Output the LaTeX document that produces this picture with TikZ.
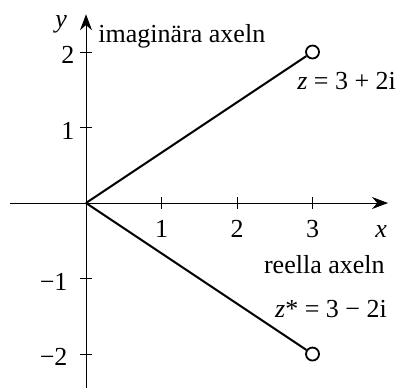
\documentclass[tikz,border=0pt]{standalone}
\usepackage{fontspec}
\setmainfont{Liberation Serif}
\usetikzlibrary{arrows.meta}

\begin{document}
\begin{tikzpicture}[x=37.75pt, y=37.75pt, >={Stealth[length=8pt,width=6pt]},
  font=\fontsize{13}{15}\selectfont,
  vec/.style={line width=1pt},
  lab/.style={inner sep=0pt},
  pt/.style={circle, draw, line width=0.9pt, fill=white, inner sep=0pt, minimum size=6.5pt}]
  \useasboundingbox (-1.139,-2.437) rectangle (4.132,2.689);

  \draw[->, line width=0.5pt] (-1.0,0) -- (4.0,0);
  \draw[->, line width=0.5pt] (0,-2.45) -- (0,2.5);

  \foreach \x in {1,2,3}
    \draw[line width=0.5pt] (\x,-0.08) -- (\x,0.08) node[below=2pt] at (\x,-0.08) {\x};
  \foreach \y/\t/\d in {2/2/2.2pt,1/1/2.2pt,-1/−1/5.7pt,-2/−2/5.7pt}
    \draw[line width=0.5pt] (-0.08,\y) -- (0.08,\y) node[left=\d, yshift=-1.5pt] at (0,\y) {\t};

  \node[lab] (xlab) at (3.91,-0.38) {\textit{x}};
  \node[lab] (ylab) at (-0.33,2.37) {\textit{y}};
  \node[lab, anchor=base west] (imlab) at (0.16,2.12) {imaginära axeln};
  \node[lab, anchor=base east] (relab) at (3.96,-0.93) {reella axeln};

  \coordinate (O) at (0,0);
  \node[pt] (z) at (3,2) {};
  \node[pt] (zc) at (3,-2) {};
  \draw[vec] (O) -- (z);
  \draw[vec] (O) -- (zc);

  \node[lab, anchor=base east] (zlab) at (4.11,1.5) {\textit{z} = 3 + 2i};
  \node[lab, anchor=base east] (zclab) at (3.99,-1.52) {\textit{z}* = 3 − 2i};
\end{tikzpicture}
\end{document}
